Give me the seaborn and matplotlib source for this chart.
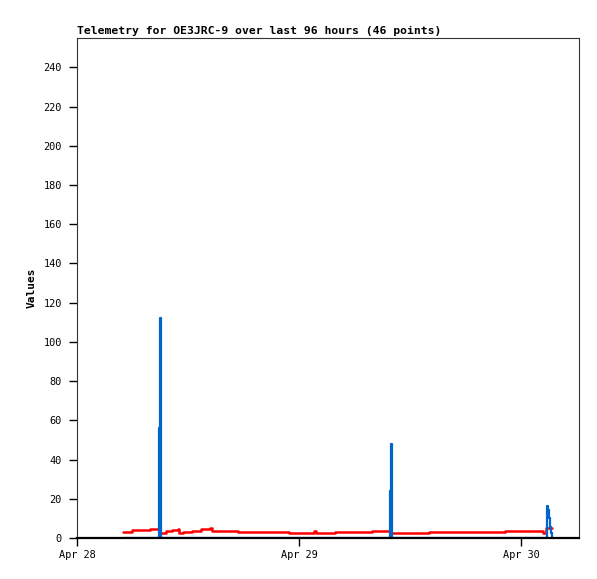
import pandas as pd
import matplotlib
matplotlib.use("Agg")
import matplotlib.pyplot as plt
import matplotlib.dates as mdates
import seaborn as sns

# red series (step values)
red_times = [
    "2024-04-28 04:58", "2024-04-28 05:57", "2024-04-28 07:54", "2024-04-28 08:58",
    "2024-04-28 09:37", "2024-04-28 10:16", "2024-04-28 10:55", "2024-04-28 11:02",
    "2024-04-28 11:28", "2024-04-28 12:26", "2024-04-28 13:24", "2024-04-28 14:23",
    "2024-04-28 14:36", "2024-04-28 17:24", "2024-04-28 22:55", "2024-04-29 01:37",
    "2024-04-29 01:50", "2024-04-29 03:53", "2024-04-29 07:53", "2024-04-29 09:57",
    "2024-04-29 14:03", "2024-04-29 22:16", "2024-04-30 02:23", "2024-04-30 02:42",
    "2024-04-30 03:21",
]
red_values = [
    3.2, 4.1, 4.8, 2.7,
    3.4, 4.1, 4.8, 2.7,
    3.2, 3.7, 4.4, 4.9,
    3.7, 3.1, 2.7, 3.5,
    2.7, 3.1, 3.7, 2.7,
    3.1, 3.7, 2.4, 4.9,
    4.9,
]

# blue series (spikes)
blue_times = [
    "2024-04-28 04:58", "2024-04-28 08:54", "2024-04-28 08:59", "2024-04-28 09:05",
    "2024-04-29 09:50", "2024-04-29 09:55", "2024-04-29 10:01",
    "2024-04-30 02:50", "2024-04-30 02:56", "2024-04-30 03:02", "2024-04-30 03:08",
    "2024-04-30 03:14", "2024-04-30 03:20",
]
blue_values = [0, 56, 112, 0, 24, 48, 0, 16.5, 14.3, 10.2, 5.8, 2.5, 0]

y_ticks = list(range(0, 241, 20))
x_ticks = ["2024-04-28", "2024-04-29", "2024-04-30"]
title = "Telemetry for OE3JRC-9 over last 96 hours (46 points)"

sns.set_style("white")
plt.rcParams["font.family"] = ["DejaVu Sans Mono"]
plt.rcParams["text.color"] = "black"
plt.rcParams["axes.labelcolor"] = "black"
plt.rcParams["xtick.color"] = "black"
plt.rcParams["ytick.color"] = "black"

red_df = pd.DataFrame({"time": pd.to_datetime(red_times), "value": red_values})
blue_df = pd.DataFrame({"time": pd.to_datetime(blue_times), "value": blue_values})

fig = plt.figure(figsize=(5.97, 5.79), dpi=100)
ax = fig.add_axes([77 / 597, 41 / 579, 502 / 597, 500 / 579])

sns.lineplot(data=red_df, x="time", y="value", ax=ax, color="#ff0000",
             linewidth=1.8, drawstyle="steps-post", estimator=None)
sns.lineplot(data=blue_df, x="time", y="value", ax=ax, color="#0066cc",
             linewidth=1.6, drawstyle="steps-post", estimator=None)

ax.set_xlim(pd.Timestamp("2024-04-28 00:00"), pd.Timestamp("2024-04-30 06:16"))
ax.set_ylim(0, 255)
ax.set_yticks(y_ticks)
ax.set_xticks(pd.to_datetime(x_ticks))
ax.xaxis.set_major_formatter(mdates.DateFormatter("%b %d"))

ax.tick_params(axis="both", direction="out", length=6, width=1, color="black",
               labelcolor="black", labelsize=7.4, left=True, bottom=True)
ax.tick_params(axis="y", pad=5)
ax.tick_params(axis="x", pad=3)

for side in ["top", "right", "left"]:
    ax.spines[side].set_color("#333333")
    ax.spines[side].set_linewidth(0.8)
ax.spines["bottom"].set_color("black")
ax.spines["bottom"].set_linewidth(1.6)

ax.set_xlabel("")
ax.set_ylabel("Values", fontsize=8, fontweight="bold", labelpad=5, color="black")
ax.set_title(title, loc="left", fontsize=8.2, fontweight="bold", pad=3,
             color="black")

fig.savefig("out.png", dpi=100)
